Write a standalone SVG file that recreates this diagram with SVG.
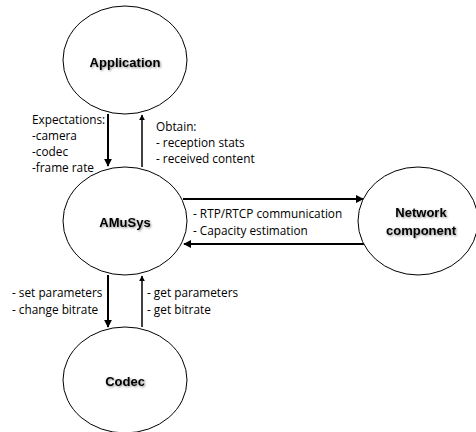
<svg xmlns="http://www.w3.org/2000/svg" width="476" height="432" viewBox="0 0 476 432">
<style>
.node{fill:#fff;stroke:#000;stroke-width:1}
.title{font-family:"Liberation Sans",Arial,sans-serif;font-size:13px;font-weight:bold;text-anchor:middle;fill:#000;filter:url(#sh)}
.lbl{font-family:"Open Sans","Liberation Sans",sans-serif;font-size:11.8px;fill:#000}
.c{stroke:#000;fill:none}
.thick{stroke-width:2}
.thin{stroke-width:1.5}
</style>
<defs>
<filter id="sh" x="-20%" y="-40%" width="140%" height="180%">
<feDropShadow dx="1" dy="1" stdDeviation="0.8" flood-color="#000" flood-opacity="0.45"/>
</filter>
<marker id="ah" viewBox="0 0 10 10" refX="9" refY="5" markerWidth="4" markerHeight="4" orient="auto" markerUnits="strokeWidth">
<path d="M0,0L10,5L0,10z" fill="#000"/>
</marker>
</defs>
<g id="connectors">
<line class="c thick" x1="108" y1="114" x2="108" y2="166" marker-end="url(#ah)"/>
<line class="c thin" x1="142" y1="167" x2="142" y2="115" marker-end="url(#ah)"/>
<line class="c thick" x1="183" y1="199" x2="363" y2="199" marker-end="url(#ah)"/>
<line class="c thick" x1="364" y1="244" x2="184" y2="244" marker-end="url(#ah)"/>
<line class="c thick" x1="108" y1="275" x2="108" y2="327" marker-end="url(#ah)"/>
<line class="c thin" x1="142" y1="327" x2="142" y2="276" marker-end="url(#ah)"/>
</g>
<g id="application">
<ellipse class="node" cx="125" cy="60" rx="62" ry="54"/>
<text class="title" x="125" y="67">Application</text>
</g>
<g id="amusys">
<ellipse class="node" cx="125" cy="221" rx="62" ry="54"/>
<text class="title" x="125" y="227">AMuSys</text>
</g>
<g id="network">
<ellipse class="node" cx="418" cy="221" rx="60" ry="54"/>
<text class="title" x="421" y="217">Network</text>
<text class="title" x="421" y="235">component</text>
</g>
<g id="codec">
<ellipse class="node" cx="125" cy="380" rx="62" ry="53"/>
<text class="title" x="125" y="386">Codec</text>
</g>
<g id="labels">
<text class="lbl" x="32" y="124">Expectations:</text>
<text class="lbl" x="32" y="140">-camera</text>
<text class="lbl" x="32" y="156">-codec</text>
<text class="lbl" x="32" y="172">-frame rate</text>
<text class="lbl" x="156" y="131">Obtain:</text>
<text class="lbl" x="156" y="147">- reception stats</text>
<text class="lbl" x="156" y="163">- received content</text>
<text class="lbl" x="193" y="218">- RTP/RTCP communication</text>
<text class="lbl" x="193" y="235">- Capacity estimation</text>
<text class="lbl" x="12" y="297">- set parameters</text>
<text class="lbl" x="12" y="314">- change bitrate</text>
<text class="lbl" x="147" y="297">- get parameters</text>
<text class="lbl" x="147" y="314">- get bitrate</text>
</g>
</svg>
